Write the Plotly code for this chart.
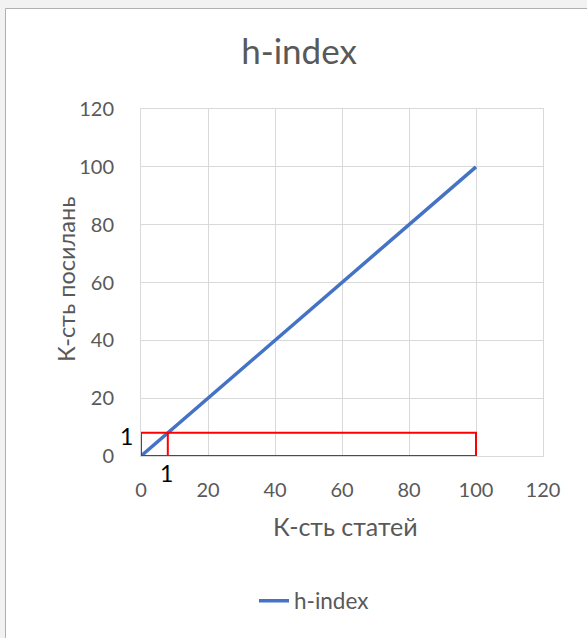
import plotly.graph_objects as go

# Data
articles = [0, 100]
citations = [0, 100]
h_value = 8
rect_x_max = 100
h_label = "1"
x_ticks = [0, 20, 40, 60, 80, 100, 120]
y_ticks = [0, 20, 40, 60, 80, 100, 120]

W, H = 587, 638
L, R, T, B = 141, 44, 109, 182
pw, ph = W - L - R, H - T - B

def px(x):
    return (x - L) / pw

def py(y):
    return (H - B - y) / ph

FONT = "Lato, Carlito, Calibri, sans-serif"
GRAY = "#595959"

fig = go.Figure()
fig.add_trace(go.Scatter(
    x=articles, y=citations, mode="lines", name="h-index",
    line=dict(color="#4472C4", width=3.5),
))
# red frame (h-index box) built from the data values
box_x = [0, rect_x_max, rect_x_max, 0, 0, None, h_value, h_value]
box_y = [0, 0, h_value, h_value, 0, None, 0, h_value]
fig.add_trace(go.Scatter(
    x=box_x, y=box_y, mode="lines", showlegend=False, hoverinfo="skip",
    line=dict(color="#FF0000", width=2), cliponaxis=False, connectgaps=False,
))

shapes = [
    dict(type="rect", xref="paper", yref="paper", layer="below",
         x0=px(5.5), x1=px(700), y0=py(800), y1=py(8.5),
         fillcolor="white", line=dict(color="#b0b0b0", width=1)),
]

annotations = [
    dict(text="К-сть статей", xref="paper", yref="paper", x=px(345), y=py(526),
         showarrow=False, font=dict(family=FONT, size=25, color=GRAY),
         xanchor="center", yanchor="middle"),
    dict(text="К-сть посилань", xref="paper", yref="paper", x=px(66), y=py(280),
         showarrow=False, textangle=-90, font=dict(family=FONT, size=23.5, color=GRAY),
         xanchor="center", yanchor="middle"),
    dict(text=h_label, xref="x", yref="y", x=0, y=h_value, showarrow=False,
         xanchor="center", yanchor="middle", xshift=-15, yshift=-3,
         font=dict(family=FONT, size=23, color="black")),
    dict(text=h_label, xref="x", yref="y", x=h_value, y=0, showarrow=False,
         xanchor="center", yanchor="middle", yshift=-17, xshift=-1,
         font=dict(family=FONT, size=23, color="black")),
]

axis_common = dict(
    range=[0, 120],
    showgrid=True, gridcolor="#d9d9d9", gridwidth=1,
    zeroline=False, showline=True, linecolor="#d9d9d9", linewidth=1, mirror=True,
    ticks="", tickfont=dict(family=FONT, size=20, color=GRAY),
    fixedrange=True, layer="below traces",
)

fig.update_layout(
    width=W, height=H,
    margin=dict(l=L, r=R, t=T, b=B, autoexpand=False),
    paper_bgcolor="#f2f2f2", plot_bgcolor="rgba(0,0,0,0)",
    title=dict(text="h-index", x=299 / W, y=1 - 52 / H, xanchor="center", yanchor="middle",
               font=dict(family=FONT, size=35, color=GRAY)),
    xaxis=dict(**axis_common, tickvals=x_ticks, ticklabelstandoff=16),
    yaxis=dict(**axis_common, tickvals=y_ticks, ticklabelstandoff=22),
    showlegend=True,
    legend=dict(orientation="h", x=px(314), y=py(601), xanchor="center", yanchor="middle",
                font=dict(family=FONT, size=22.5, color=GRAY), bgcolor="rgba(0,0,0,0)"),
    shapes=shapes, annotations=annotations,
)

fig.write_html(
    "out.html",
    config={"displayModeBar": False},
    post_script="document.body.style.margin='0';document.body.style.overflow='hidden';",
)
